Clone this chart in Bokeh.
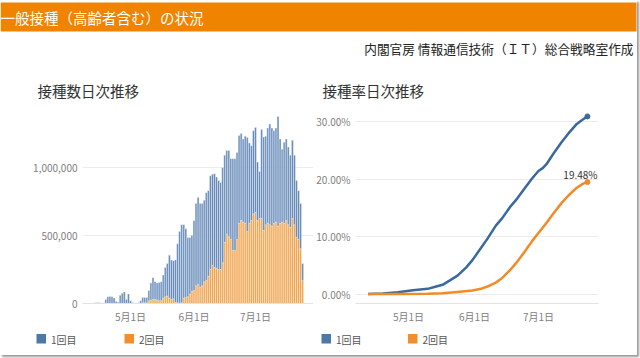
import pandas as pd
from bokeh.plotting import figure
from bokeh.models import Range1d, FixedTicker, PrintfTickFormatter
from bokeh.layouts import column, row
from bokeh.core.properties import value
from bokeh.embed import file_html
from bokeh.resources import INLINE

FONT = "Noto Sans CJK JP"

# ---------------- texts ----------------
banner_title = "一般接種（高齢者含む）の状況"
credit = "内閣官房 情報通信技術（ＩＴ）総合戦略室作成"
left_title = "接種数日次推移"
right_title = "接種率日次推移"
series_names = ["1回目", "2回目"]
month_ticks = ["2021-05-01", "2021-06-01", "2021-07-01"]
month_labels = ["5月1日", "6月1日", "7月1日"]
count_ticks = [0, 500, 1000]                      # thousands
count_labels = ["0", "500,000", "1,000,000"]
rate_ticks = [0, 10, 20, 30]

# ---------------- data ----------------
bar_dates = pd.date_range("2021-04-12", "2021-07-24", freq="D")
# daily first-dose counts (thousands)
dose1_k = [3, 4, 5, 6, 6, 4, 3, 30, 50, 52, 50, 40, 15, 10, 60, 75, 85, 30, 70, 20, 8,
           2, 2, 3, 18, 40, 40, 40, 75, 125, 160, 130, 125, 135, 140, 170, 215, 240,
           315, 290, 280, 310, 435, 527, 575, 540, 505, 435, 415, 410, 515, 605, 640,
           615, 605, 600, 645, 630, 690, 670, 690, 670, 655, 640, 700, 640, 615, 635,
           595, 675, 675, 640, 645, 640, 610, 640, 690, 590, 550, 610, 625, 430, 345,
           655, 688, 650, 700, 740, 720, 680, 690, 805, 620, 535, 595, 600, 570, 530,
           575, 510, 418, 360, 333, 125]
# daily second-dose counts (thousands)
dose2_k = [0] * 21 + [
           1, 1, 2, 2, 5, 5, 5, 20, 25, 30, 30, 25, 20, 20, 40, 50, 55,
           40, 30, 35, 10, 5, 3, 5, 40, 45, 50, 70, 90, 95, 130, 140,
           120, 130, 160, 170, 200, 250, 280, 265, 260, 250, 250, 300, 450, 510, 490,
           470, 390, 390, 470, 590, 610, 600, 590, 530, 590, 610, 660, 670, 610, 625,
           625, 537, 580, 590, 580, 570, 590, 600, 570, 590, 600, 590, 610, 580, 560,
           625, 580, 487, 470, 402, 170]

rate1_dates = ["2021-04-12", "2021-04-19", "2021-04-26", "2021-05-03", "2021-05-10",
               "2021-05-14", "2021-05-17", "2021-05-21", "2021-05-24", "2021-05-28",
               "2021-05-31", "2021-06-04", "2021-06-07", "2021-06-11", "2021-06-14",
               "2021-06-18", "2021-06-21", "2021-06-25", "2021-06-28", "2021-07-01",
               "2021-07-03", "2021-07-05", "2021-07-08", "2021-07-12", "2021-07-15",
               "2021-07-19", "2021-07-22", "2021-07-24"]
rate1_pct = [0.0, 0.1, 0.3, 0.65, 0.9, 1.3, 1.6, 2.5, 3.2, 4.6, 5.9, 8.0, 9.6, 11.9,
             13.2, 15.3, 16.6, 18.6, 20.1, 21.4, 21.9, 22.7, 24.4, 26.5, 27.9, 29.6,
             30.4, 30.9]
rate2_dates = ["2021-04-12", "2021-04-26", "2021-05-10", "2021-05-17", "2021-05-24",
               "2021-05-31", "2021-06-04", "2021-06-07", "2021-06-11", "2021-06-14",
               "2021-06-18", "2021-06-21", "2021-06-25", "2021-06-28", "2021-07-01",
               "2021-07-05", "2021-07-08", "2021-07-12", "2021-07-15", "2021-07-19",
               "2021-07-22", "2021-07-24"]
rate2_pct = [0.0, 0.0, 0.05, 0.15, 0.35, 0.6, 0.9, 1.3, 2.0, 2.8, 4.3, 5.6, 7.6, 9.2,
             10.6, 12.5, 14.0, 15.9, 17.1, 18.5, 19.2, 19.48]

# ---------------- colours ----------------
BAR_BLUE, BAR_ORANGE = "#6087b9", "#f4a145"
LINE_BLUE, LINE_ORANGE = "#3a68a0", "#f28a26"
KEY_BLUE, KEY_ORANGE = "#4e79a7", "#f28e2b"
BANNER = "#f08300"

origin = pd.Timestamp("2021-05-01")
def day(d):
    return (pd.Timestamp(d) - origin).days

bar_x = [day(d) for d in bar_dates]
tick_x = [day(d) for d in month_ticks]

W = 637
LW = 313


def blank(width, height):
    p = figure(width=width, height=height, x_range=Range1d(0, width),
               y_range=Range1d(height, 0), min_border=0, toolbar_location=None,
               output_backend="svg", title=None)
    p.axis.visible = False
    p.grid.visible = False
    p.outline_line_color = None
    return p


# ---------------- header: banner, credit, panel titles ----------------
head = blank(W, 100)
head.quad(left=[0], right=[636], top=[2], bottom=[31], fill_color=BANNER, line_color=None)
head.text(x=[0], y=[17], text=[banner_title], text_color="white",
          text_font=value(FONT), text_font_size="14.5px", text_baseline="middle")
head.text(x=[633], y=[48], text=[credit], text_color="#222222", text_align="right",
          text_font=value(FONT), text_font_size="12.7px", text_baseline="middle")
head.text(x=[37, 322], y=[90, 90], text=[left_title, right_title], text_color="#333333",
          text_font=value(FONT), text_font_size="14.5px", text_baseline="middle")


def style(p, ticks_y):
    p.outline_line_color = None
    p.xgrid.visible = False
    p.ygrid.grid_line_color = "#ececec"
    p.xaxis.ticker = FixedTicker(ticks=tick_x)
    p.xaxis.major_label_overrides = dict(zip(tick_x, month_labels))
    p.xaxis.axis_line_color = "#e3e3e3"
    p.yaxis.axis_line_color = None
    p.yaxis.ticker = FixedTicker(ticks=ticks_y)
    for ax in (p.xaxis, p.yaxis):
        ax.major_tick_line_color = None
        ax.minor_tick_line_color = None
        ax.major_tick_out = 0
        ax.major_tick_in = 0
        ax.minor_tick_out = 0
        ax.minor_tick_in = 0
        ax.major_label_text_font = FONT
        ax.major_label_text_font_size = "10px"
        ax.major_label_text_color = "#808080"
    p.xaxis.major_label_standoff = 5
    p.yaxis.major_label_standoff = 5


# ---------------- left chart: daily counts ----------------
left = figure(width=LW, height=226, x_range=Range1d(-23.4, 89.3), y_range=Range1d(0, 1456),
              min_border_left=82, min_border_right=0, min_border_top=5, min_border_bottom=23,
              toolbar_location=None, output_backend="svg", title=None)
src = dict(x=bar_x, d1=dose1_k, d2=dose2_k)
left.vbar_stack(["d2", "d1"], x="x", width=0.9, source=src,
                color=[BAR_ORANGE, BAR_BLUE], line_color="#f4f4f4", line_width=0.4)
style(left, count_ticks)
left.yaxis.major_label_overrides = dict(zip(count_ticks, count_labels))

# ---------------- right chart: cumulative rates ----------------
right = figure(width=W - LW, height=226, x_range=Range1d(-24.9, 89.2),
               y_range=Range1d(-1.65, 32.8),
               min_border_left=42, min_border_right=39, min_border_top=5, min_border_bottom=23,
               toolbar_location=None, output_backend="svg", title=None)
r1x = [day(d) for d in rate1_dates]
r2x = [day(d) for d in rate2_dates]
right.line(r1x, rate1_pct, line_color=LINE_BLUE, line_width=2.5, line_join="round")
right.line(r2x, rate2_pct, line_color=LINE_ORANGE, line_width=2.5, line_join="round")
right.scatter([r1x[-1]], [rate1_pct[-1]], size=5, color=LINE_BLUE)
right.scatter([r2x[-1]], [rate2_pct[-1]], size=5, color=LINE_ORANGE)
right.text(x=[r2x[-1]], y=[rate2_pct[-1]], text=[f"{rate2_pct[-1]:.2f}%"],
           x_offset=-7, y_offset=-8, text_align="center", text_baseline="middle",
           text_font=value(FONT), text_font_size="10px", text_color="#333333")
style(right, rate_ticks)
right.yaxis.formatter = PrintfTickFormatter(format="%.2f%%")

# ---------------- legends strip ----------------
leg = blank(W, 29)   # y measured from 326 (top of strip)
key_x = [36, 124, 321, 407.5]
key_colors = [KEY_BLUE, KEY_ORANGE, KEY_BLUE, KEY_ORANGE]
leg.quad(left=key_x, right=[k + 9.5 for k in key_x], top=[7.5] * 4, bottom=[17] * 4,
         fill_color=key_colors, line_color=None)
leg.text(x=[k + 14.5 for k in key_x], y=[12.5] * 4, text=series_names * 2,
         text_color="#555555", text_font=value(FONT), text_font_size="10px",
         text_baseline="middle")

layout = column(head, row(left, right), leg,
                styles={"box-shadow": "2px 2px 2px #9a9a9a"})

open("out.html", "w").write(file_html(layout, INLINE))
